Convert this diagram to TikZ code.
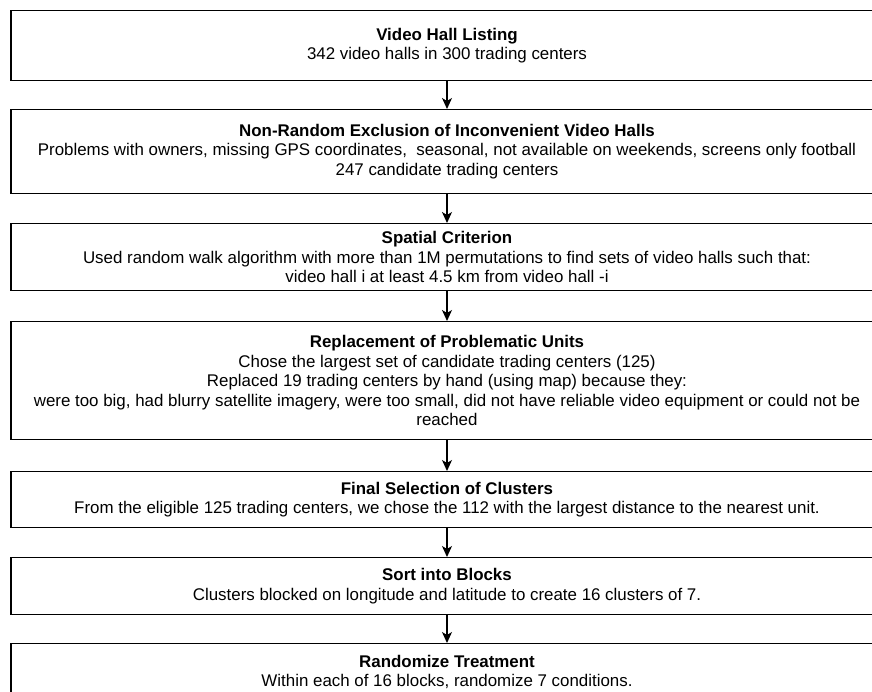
\documentclass[tikz,border=0pt]{standalone}
\usepackage{fontspec}
\setmainfont{Liberation Sans}
\usetikzlibrary{positioning}
\usetikzlibrary{arrows.meta}
\tikzset{
	stepbox/.style={
		draw,
		line width=1.2pt,
		rectangle,
		anchor=north,
		align=center,
		inner sep=0pt,
		minimum width=872pt,
		minimum height=#1,
		font=\fontsize{16.9}{19.6}\selectfont
	},
	stepbox/.default={60pt},
	flow/.style={
		x=1pt, y=-1pt,
		every edge/.style = {draw,line width=1.3pt,-{Stealth[length=11pt,width=10pt,inset=3pt]}}
	}
}

\begin{document}
\begin{tikzpicture} [flow]
	\useasboundingbox (0,0) rectangle (872,692);
	\clip (0,0) rectangle (872,692);

	\node [stepbox=70pt] (listing) at (447,10)
		{\textbf{Video Hall Listing}\\342 video halls in 300 trading centers};
	\node [stepbox=84pt] (exclusion) at (447,109)
		{\textbf{Non-Random Exclusion of Inconvenient Video Halls}\\
		Problems with owners, missing GPS coordinates, \ seasonal, not available on weekends, screens only football\\
		247 candidate trading centers};
	\node [stepbox=67pt] (spatial) at (447,223)
		{\textbf{Spatial Criterion}\\
		Used random walk algorithm with more than 1M permutations to find sets of video halls such that:\\
		video hall i at least 4.5 km from video hall -i};
	\node [stepbox=118pt] (replace) at (447,321)
		{\textbf{Replacement of Problematic Units}\\
		Chose the largest set of candidate trading centers (125)\\
		Replaced 19 trading centers by hand (using map) because they:\\
		were too big, had blurry satellite imagery, were too small, did not have reliable video equipment or could not be\\
		reached};
	\node [stepbox=56pt] (final) at (447,471)
		{\textbf{Final Selection of Clusters}\\
		From the eligible 125 trading centers, we chose the 112 with the largest distance to the nearest unit.};
	\node [stepbox=57pt] (blocks) at (447,557)
		{\textbf{Sort into Blocks}\\
		Clusters blocked on longitude and latitude to create 16 clusters of 7.};
	\node [stepbox=57pt] (randomize) at (447,643)
		{\textbf{Randomize Treatment}\\
		Within each of 16 blocks, randomize 7 conditions.};

	\draw (listing) edge (exclusion)
		(exclusion) edge (spatial)
		(spatial) edge (replace)
		(replace) edge (final)
		(final) edge (blocks)
		(blocks) edge (randomize);
\end{tikzpicture}
\end{document}
